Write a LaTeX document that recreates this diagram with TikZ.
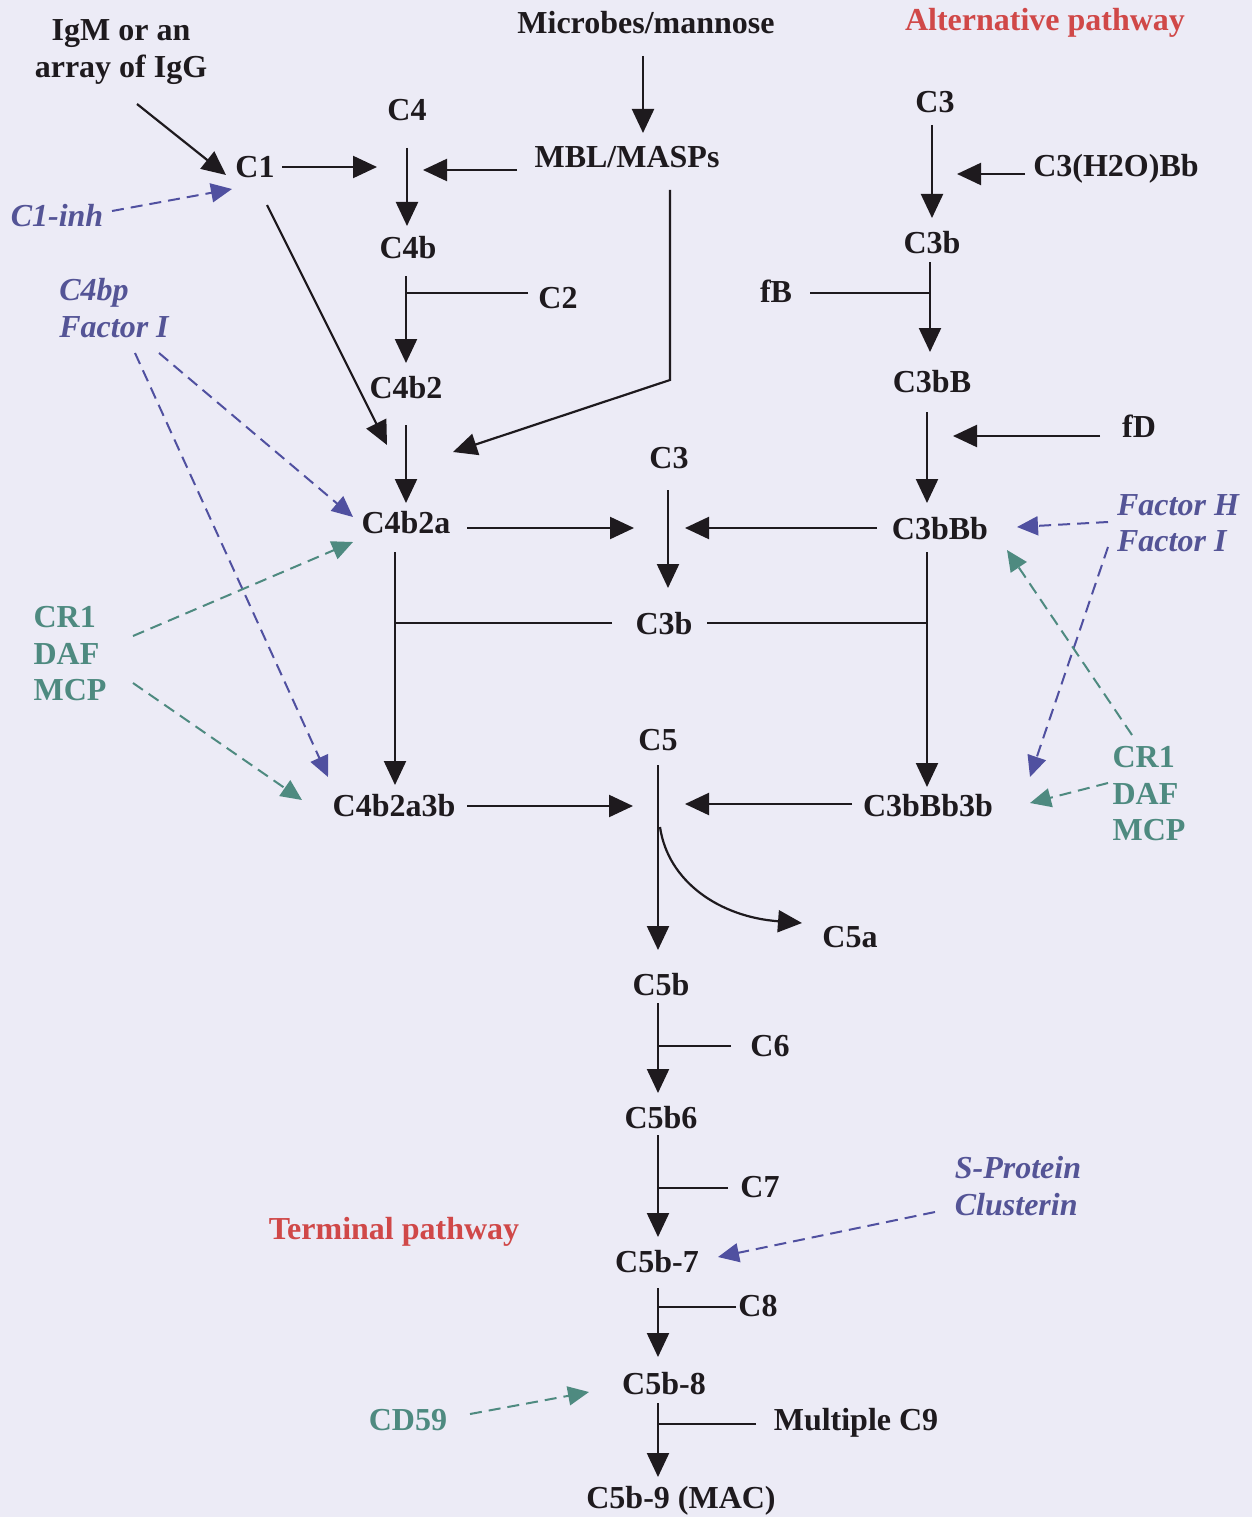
\documentclass[tikz,border=0pt]{standalone}
\usepackage{fontspec}
\setmainfont{Liberation Serif}
\usetikzlibrary{arrows.meta,calc}
\definecolor{bgc}{RGB}{236,235,246}
\definecolor{ink}{RGB}{30,26,30}
\definecolor{purp}{RGB}{84,84,150}
\definecolor{purpline}{RGB}{80,80,160}
\definecolor{teal2}{RGB}{78,138,128}
\definecolor{red2}{RGB}{208,72,72}
\tikzset{
  txt/.style={font=\bfseries\fontsize{32}{36.5}\selectfont, inner sep=0pt, text=ink},
  itx/.style={font=\bfseries\itshape\fontsize{32}{36.5}\selectfont, inner sep=0pt, text=purp},
  ttx/.style={font=\bfseries\fontsize{32}{36.5}\selectfont, inner sep=0pt, text=teal2},
  rtx/.style={font=\bfseries\fontsize{32}{36.5}\selectfont, inner sep=0pt, text=red2},
  arr/.style={draw=ink, line width=2.2pt, -{Triangle[length=24pt,width=22pt]}},
  bar/.style={draw=ink, line width=2.2pt},
  parr/.style={draw=purpline, line width=2pt, dash pattern=on 12pt off 7pt, -{Triangle[length=21pt,width=19pt]}},
  tarr/.style={draw=teal2, line width=2pt, dash pattern=on 12pt off 7pt, -{Triangle[length=21pt,width=19pt]}}
}
\begin{document}
\begin{tikzpicture}[x=1pt,y=-1pt]
\useasboundingbox (0,0) rectangle (1252,1517);
\fill[bgc] (0,0) rectangle (1252,1517);

% nodes
\node[txt, align=center] (IgM) at (121,52) {IgM or an\\array of IgG};
\node[txt] (Micro) at (646,23) {Microbes/mannose};
\node[rtx] (Alt) at (1045,23) {Alternative pathway};
\node[txt] (C4) at (407,110) {C4};
\node[txt] (C3t) at (935,102) {C3};
\node[txt] (C1) at (255,167) {C1};
\node[txt] (MBL) at (627,157) {MBL/MASPs};
\node[txt] (C3H) at (1116,169) {C3(H2O)Bb};
\node[itx] (C1inh) at (57,216) {C1-inh};
\node[txt] (C4b) at (408,248) {C4b};
\node[txt] (C3b) at (932,243) {C3b};
\node[itx, align=left] (C4bp) at (114,308) {C4bp\\Factor I};
\node[txt] (C2) at (558,298) {C2};
\node[txt] (fB) at (776,291) {fB};
\node[txt] (C4b2) at (406,388) {C4b2};
\node[txt] (C3bB) at (932,382) {C3bB};
\node[txt] (fD) at (1139,426) {fD};
\node[txt] (C3m) at (669,458) {C3};
\node[txt] (C4b2a) at (406,523) {C4b2a};
\node[txt] (C3bBb) at (940,529) {C3bBb};
\node[itx, align=left] (FacHI) at (1178,523) {Factor H\\Factor I};
\node[ttx, align=left] (CRL) at (70,654) {CR1\\DAF\\MCP};
\node[txt] (C3bm) at (664,624) {C3b};
\node[txt] (C5) at (658,740) {C5};
\node[txt] (C4b2a3b) at (394,806) {C4b2a3b};
\node[txt] (C3bBb3b) at (928,806) {C3bBb3b};
\node[ttx, align=left] (CRR) at (1149,794) {CR1\\DAF\\MCP};
\node[txt] (C5a) at (850,937) {C5a};
\node[txt] (C5b) at (661,985) {C5b};
\node[txt] (C6) at (770,1046) {C6};
\node[txt] (C5b6) at (661,1118) {C5b6};
\node[itx, align=left] (SProt) at (1018,1186) {S-Protein\\Clusterin};
\node[txt] (C7) at (760,1187) {C7};
\node[rtx] (Term) at (394,1232) {Terminal pathway};
\node[txt] (C5b7) at (657,1262) {C5b-7};
\node[txt] (C8) at (758,1306) {C8};
\node[txt] (C5b8) at (664,1384) {C5b-8};
\node[ttx] (CD59) at (408,1420) {CD59};
\node[txt] (MC9) at (856,1423) {Multiple C9};
\node[txt] (MAC) at (681,1501) {C5b-9 (MAC)};

% junctions
\coordinate (j3) at ($(C3m)+(-1,70)$);
\coordinate (j5) at ($(C5)+(0,66)$);
\coordinate (j5c) at ($(C5)+(2,87)$);

% classical / lectin
\draw[arr] ($(IgM)+(16,52)$) -- ($(C1)+(-29,8)$);
\draw[arr] ($(C1)+(27,0)$) -- ($(C4)+(-30,57)$);
\draw[arr] ($(C4)+(0,38)$) -- ($(C4b)+(-1,-22)$);
\draw[arr] ($(MBL)+(-110,13)$) -- ($(C4)+(16,60)$);
\draw[arr] ($(Micro)+(-3,33)$) -- ($(MBL)+(16,-24)$);
\draw[arr] ($(MBL)+(43,33)$) -- ($(MBL)+(43,223)$) -- ($(C4b2a)+(47,-71)$);
\draw[arr] ($(C1)+(12,38)$) -- ($(C4b2a)+(-19,-78)$);
\draw[arr] ($(C4b)+(-2,28)$) -- ($(C4b2)+(0,-25)$);
\draw[bar] ($(C2)+(-30,-5)$) -- ($(C4b)+(-2,45)$);
\draw[arr] ($(C4b2)+(0,37)$) -- ($(C4b2a)+(0,-20)$);

% alternative
\draw[arr] ($(C3t)+(-3,23)$) -- ($(C3b)+(0,-25)$);
\draw[arr] ($(C3H)+(-91,5)$) -- ($(C3b)+(25,-69)$);
\draw[arr] ($(C3b)+(-2,19)$) -- ($(C3bB)+(-2,-30)$);
\draw[bar] ($(fB)+(34,2)$) -- ($(C3b)+(-2,50)$);
\draw[arr] ($(C3bB)+(-5,30)$) -- ($(C3bBb)+(-13,-26)$);
\draw[arr] ($(fD)+(-39,10)$) -- ($(C3bBb)+(13,-93)$);

% C3 convertases
\draw[arr] ($(C4b2a)+(61,5)$) -- ($(j3)+(-34,0)$);
\draw[arr] ($(C3bBb)+(-63,-1)$) -- ($(j3)+(17,0)$);
\draw[arr] ($(C3m)+(-1,32)$) -- ($(C3bm)+(4,-36)$);
\draw[arr] ($(C4b2a)+(-11,29)$) -- ($(C4b2a3b)+(1,-21)$);
\draw[bar] ($(C3bm)+(-52,-1)$) -- ($(C4b2a)+(-11,100)$);
\draw[bar] ($(C3bm)+(43,-1)$) -- ($(C3bBb)+(-13,94)$);
\draw[arr] ($(C3bBb)+(-13,23)$) -- ($(C3bBb3b)+(-1,-19)$);

% C5 convertases
\draw[arr] ($(C4b2a3b)+(73,0)$) -- ($(j5)+(-25,0)$);
\draw[arr] ($(C3bBb3b)+(-76,-2)$) -- ($(j5)+(27,-2)$);
\draw[arr] ($(C5)+(0,25)$) -- ($(C5b)+(-3,-35)$);
\draw[arr] (j5c) .. controls ($(j5c)+(8,55)$) and ($(j5c)+(60,90)$) .. ($(C5a)+(-48,-14)$);

% terminal
\draw[arr] ($(C5b)+(-3,18)$) -- ($(C5b6)+(-3,-25)$);
\draw[bar] ($(C6)+(-39,0)$) -- ($(C5b)+(-3,61)$);
\draw[arr] ($(C5b6)+(-3,17)$) -- ($(C5b7)+(1,-25)$);
\draw[bar] ($(C7)+(-32,1)$) -- ($(C5b6)+(-3,70)$);
\draw[arr] ($(C5b7)+(1,26)$) -- ($(C5b8)+(-6,-27)$);
\draw[bar] ($(C8)+(-22,1)$) -- ($(C5b7)+(1,45)$);
\draw[arr] ($(C5b8)+(-6,19)$) -- ($(MAC)+(-23,-24)$);
\draw[bar] ($(MC9)+(-100,1)$) -- ($(C5b8)+(-6,40)$);

% regulators
\draw[parr] ($(C1inh)+(55,-5)$) -- ($(C1)+(-23,22)$);
\draw[parr] ($(C4bp)+(45,45)$) -- ($(C4b2a)+(-53,-6)$);
\draw[parr] ($(C4bp)+(21,45)$) -- ($(C4b2a3b)+(-66,-29)$);
\draw[tarr] ($(CRL)+(63,-18)$) -- ($(C4b2a)+(-53,19)$);
\draw[tarr] ($(CRL)+(63,29)$) -- ($(C4b2a3b)+(-92,-6)$);
\draw[parr] ($(FacHI)+(-70,-1)$) -- ($(C3bBb)+(77,-2)$);
\draw[parr] ($(FacHI)+(-70,24)$) -- ($(C3bBb3b)+(102,-29)$);
\draw[tarr] ($(CRR)+(-17,-59)$) -- ($(C3bBb)+(67,21)$);
\draw[tarr] ($(CRR)+(-41,-11)$) -- ($(C3bBb3b)+(102,-3)$);
\draw[parr] ($(SProt)+(-83,26)$) -- ($(C5b7)+(61,-5)$);
\draw[tarr] ($(CD59)+(62,-6)$) -- ($(C5b8)+(-75,8)$);
\end{tikzpicture}
\end{document}
